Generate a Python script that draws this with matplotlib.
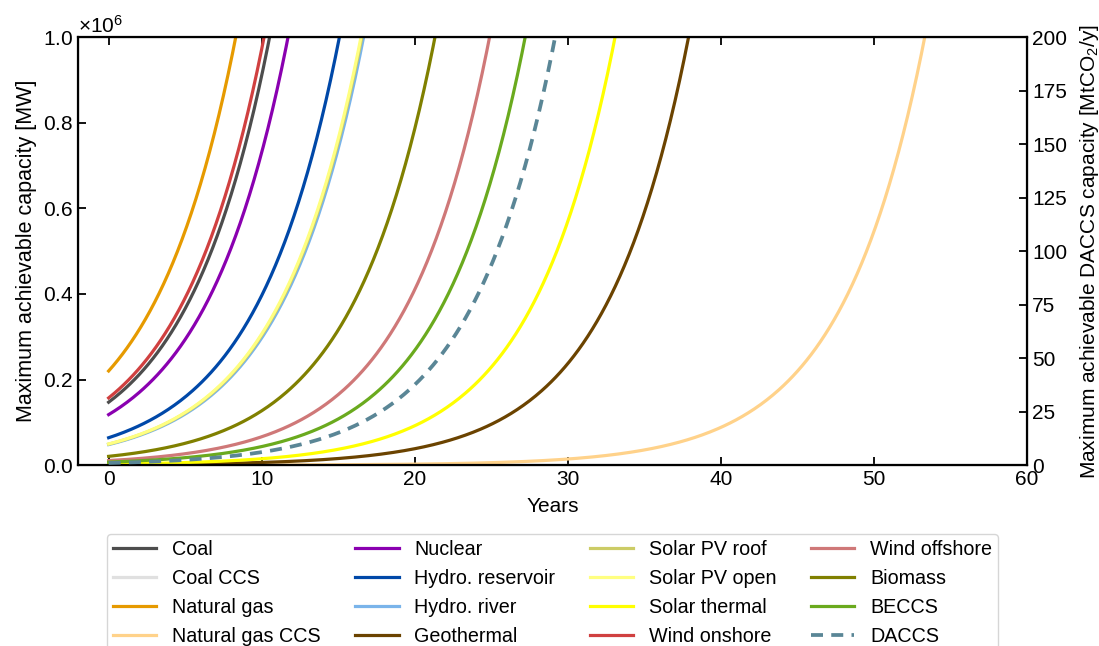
import numpy as np
import matplotlib
matplotlib.use("Agg")
from matplotlib import pyplot as plt

plt.rcParams['font.family'] = ['Liberation Sans', 'DejaVu Sans']
plt.rcParams['font.size'] = 15
plt.rcParams['mathtext.fontset'] = 'custom'
plt.rcParams['mathtext.rm'] = 'Liberation Sans'
plt.rcParams['mathtext.it'] = 'Liberation Sans:italic'

# --- data ---
techs = ["Coal", "Coal CCS", "Natural gas", "Natural gas CCS",
         "Nuclear", "Hydro. reservoir", "Hydro. river", "Geothermal",
         "Solar PV roof", "Solar PV open", "Solar thermal", "Wind onshore",
         "Wind offshore", "Biomass", "BECCS"]
# starting capacity in year 0 [MW]
start_mw = [147000, 0, 220000, 60,
            118000, 64000, 48000, 1000,
            49000, 49500, 2400, 157000,
            10700, 20500, 7000]
colors = ["#4d4d4d", "#e0e0e0", "#e69a00", "#ffd28a",
          "#8a00b0", "#0048a8", "#7ab4ea", "#6b4300",
          "#cccc66", "#ffff80", "#ffff00", "#d04040",
          "#cf7878", "#808000", "#6aaa1e"]
growth = 0.20          # yearly growth rate
daccs_start = 0.98     # MtCO2/y in year 0
daccs_color = "#5a8696"
years = np.linspace(0, 60, 601)

fig = plt.figure(figsize=(10.99, 6.46), dpi=100)
ax = fig.add_axes([0.071, 0.280, 0.8635, 0.6625])
ax2 = ax.twinx()

for name, c0, col in zip(techs, start_mw, colors):
    ax.plot(years, c0 * (1 + growth) ** years, color=col, lw=2.3, label=name)
ax2.plot(years, daccs_start * (1 + growth) ** years, color=daccs_color,
         lw=2.7, ls=(0, (3.2, 2.2)), label="DACCS")

ax.set_xlim(-2, 60)
ax.set_ylim(0, 1e6)
ax2.set_ylim(0, 200)
ax.set_yticks(np.arange(0, 1.01e6, 2e5))
ax2.set_yticks(np.arange(0, 201, 25))
ax.ticklabel_format(axis='y', style='sci', scilimits=(0, 0), useMathText=True)
ax.tick_params(direction='in', top=True, length=6, width=1.3)
ax2.tick_params(direction='in', length=6, width=1.3)
for sp in ax.spines.values():
    sp.set_linewidth(1.6)

ax.set_xlabel("Years", labelpad=6)
ax.set_ylabel("Maximum achievable capacity [MW]", fontsize=15.5)
ax2.set_ylabel("Maximum achievable DACCS capacity [MtCO$_2$/y]", labelpad=8)

h1, l1 = ax.get_legend_handles_labels()
h2, l2 = ax2.get_legend_handles_labels()
ax.legend(h1 + h2, l1 + l2, ncol=4, loc='upper center',
          bbox_to_anchor=(0.5, -0.138), frameon=True, edgecolor='#cccccc',
          handlelength=2.2, columnspacing=1.75, labelspacing=0.5,
          borderpad=0.3, fontsize=14.2)

fig.savefig("out.png", dpi=100)
